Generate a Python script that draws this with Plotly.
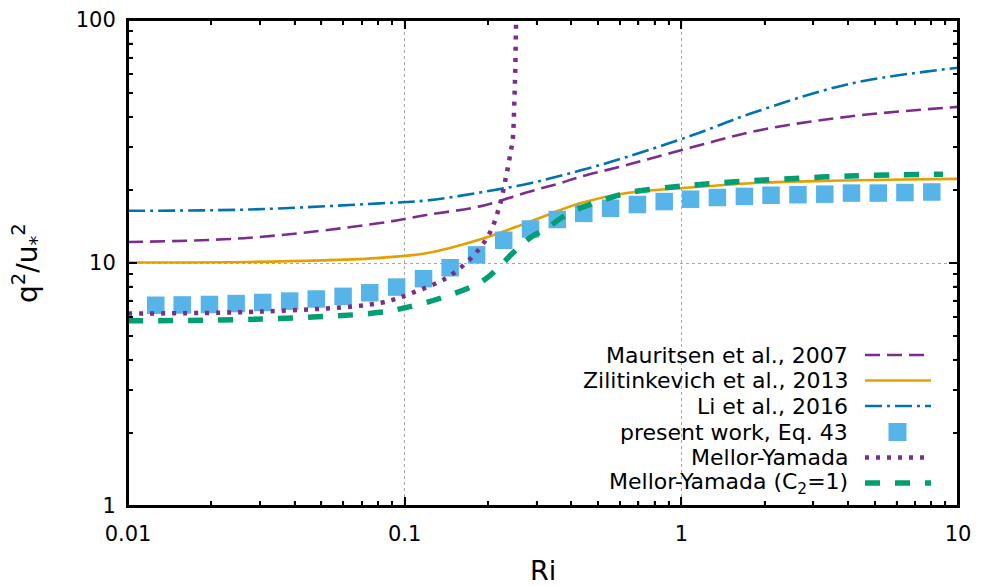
import math
import plotly.graph_objects as go

# ---------------- data ----------------
ri_mau = [0.01, 0.0275, 0.0815, 0.121, 0.187, 0.284, 0.364, 0.430, 0.634, 1.10, 1.92, 4.06, 10.0]
q_mau = [12.2, 12.7, 14.6, 15.8, 17.1, 19.7, 21.3, 22.6, 25.3, 30.0, 35.2, 40.1, 43.9]

ri_zil = [0.01, 0.0275, 0.05, 0.0815, 0.121, 0.187, 0.284, 0.430, 0.634, 1.10, 1.92, 3.5, 5.5, 10.0]
q_zil = [10.05, 10.1, 10.25, 10.5, 11.0, 12.5, 14.8, 17.6, 19.4, 20.5, 21.4, 21.8, 22.0, 22.2]

ri_li = [0.01, 0.0275, 0.0815, 0.121, 0.187, 0.284, 0.430, 0.634, 1.10, 1.77, 4.06, 10.0]
q_li = [16.4, 16.6, 17.6, 18.1, 19.5, 21.3, 24.0, 27.3, 33.6, 41.1, 54.6, 63.6]

ri_pw = [0.0126, 0.0157, 0.0197, 0.0246, 0.0307, 0.0384, 0.0479, 0.0599, 0.0748, 0.0935,
         0.117, 0.146, 0.182, 0.228, 0.285, 0.356, 0.444, 0.555, 0.694, 0.867,
         1.08, 1.35, 1.69, 2.11, 2.64, 3.30, 4.12, 5.15, 6.43, 8.04]
q_pw = [6.70, 6.72, 6.75, 6.81, 6.88, 6.97, 7.11, 7.29, 7.54, 7.96,
        8.62, 9.56, 10.8, 12.4, 13.8, 15.1, 16.0, 16.8, 17.4, 17.9,
        18.3, 18.6, 18.8, 19.0, 19.1, 19.2, 19.4, 19.4, 19.5, 19.6]

ri_my = [0.01, 0.03, 0.0815, 0.107, 0.142, 0.177, 0.203, 0.220, 0.2326, 0.2424, 0.2457, 0.2492, 0.2512, 0.2527, 0.2531]
q_my = [6.2, 6.31, 6.85, 7.55, 8.70, 10.7, 13.3, 17.1, 22.7, 29.2, 32.0, 46.6, 65.0, 96.0, 100.0]

ri_myc = [0.01, 0.0287, 0.080, 0.107, 0.142, 0.187, 0.215, 0.246, 0.284, 0.326, 0.374, 0.430, 0.481,
          0.634, 0.91, 1.20, 1.92, 4.06, 8.83]
q_myc = [5.78, 5.87, 6.25, 6.66, 7.31, 8.30, 9.40, 11.0, 12.7, 13.9, 15.5, 16.8, 17.6,
         19.4, 20.5, 21.1, 21.9, 22.8, 23.2]

x_tickvals = [0.01, 0.1, 1, 10]
x_ticktext = ["0.01", "0.1", "1", "10"]
y_tickvals = [1, 10, 100]
y_ticktext = ["1", "10", "100"]

names = ["Mauritsen et al., 2007", "Zilitinkevich et al., 2013", "Li et al., 2016",
         "present work, Eq. 43", "Mellor-Yamada", "Mellor-Yamada (C<sub>2</sub>=1)"]

PURPLE = "#7B2D8E"
ORANGE = "#E69F00"
BLUE = "#0072B2"
SKY = "#56B4E9"
GREEN = "#009E73"

styles = [
    dict(color=PURPLE, width=2.6, dash="15px,7px"),
    dict(color=ORANGE, width=2.6, dash="solid"),
    dict(color=BLUE, width=2.6, dash="17px,5px,3px,5px"),
    None,
    dict(color=PURPLE, width=4.5, dash="4px,7px"),
    dict(color=GREEN, width=5.5, dash="15px,15px"),
]

fig = go.Figure()
fig.add_trace(go.Scatter(x=ri_zil, y=q_zil, mode="lines", line=dict(**styles[1], shape="spline"), showlegend=False))
fig.add_trace(go.Scatter(x=ri_mau, y=q_mau, mode="lines", line=dict(**styles[0], shape="spline"), showlegend=False))
fig.add_trace(go.Scatter(x=ri_li, y=q_li, mode="lines", line=dict(**styles[2], shape="spline"), showlegend=False))
fig.add_trace(go.Scatter(x=ri_pw, y=q_pw, mode="markers",
                         marker=dict(symbol="square", size=17.5, color=SKY, line=dict(width=0)),
                         showlegend=False))
fig.add_trace(go.Scatter(x=ri_my, y=q_my, mode="lines", line=dict(**styles[4], shape="spline"), showlegend=False))
fig.add_trace(go.Scatter(x=ri_myc, y=q_myc, mode="lines", line=dict(**styles[5], shape="spline"), showlegend=False))
# empty trace carrying the overlay axes that draw the minor tick marks
fig.add_trace(go.Scatter(x=[], y=[], xaxis="x2", yaxis="y2", showlegend=False, hoverinfo="skip"))

FONT = "DejaVu Sans"
XR, YR = [-2, 1], [0, 2]
x_minor = [k * 10.0 ** e for e in range(XR[0], XR[1]) for k in range(2, 10)]
y_minor = [k * 10.0 ** e for e in range(YR[0], YR[1]) for k in range(2, 10)]

fig.update_layout(
    xaxis=dict(type="log", range=XR, tickmode="array", tickvals=x_tickvals, ticktext=x_ticktext,
               showline=True, linecolor="black", linewidth=2, mirror="ticks",
               ticks="inside", ticklen=9, tickwidth=1.5, tickcolor="black",
               showgrid=True, gridcolor="#a8a8a8", griddash="dot", gridwidth=1, zeroline=False,
               ticklabelstandoff=8, tickfont=dict(family=FONT, size=21, color="black")),
    yaxis=dict(type="log", range=YR, tickmode="array", tickvals=y_tickvals, ticktext=y_ticktext,
               showline=True, linecolor="black", linewidth=2, mirror="ticks",
               ticks="inside", ticklen=9, tickwidth=1.5, tickcolor="black",
               showgrid=True, gridcolor="#a8a8a8", griddash="dot", gridwidth=1, zeroline=False,
               ticklabelstandoff=6, tickfont=dict(family=FONT, size=21, color="black")),
    xaxis2=dict(type="log", range=XR, overlaying="x", anchor="y", side="bottom",
                tickmode="array", tickvals=x_minor, showticklabels=False,
                ticks="inside", ticklen=5, tickwidth=1.5, tickcolor="black", mirror="ticks",
                showline=False, showgrid=False, zeroline=False),
    yaxis2=dict(type="log", range=YR, overlaying="y", anchor="x", side="left",
                tickmode="array", tickvals=y_minor, showticklabels=False,
                ticks="inside", ticklen=5, tickwidth=1.5, tickcolor="black", mirror="ticks",
                showline=False, showgrid=False, zeroline=False),
)

PL, PR, PT, PB = 128, 958, 20, 506      # plot-area box in page pixels
W, H = 987, 586
L, T, R, B = PL, PT, W - PR, H - PB
pw, ph = W - L - R, H - T - B

def px(xpage):
    return (xpage - PL) / pw

def py(ypage):
    return (PB - ypage) / ph

annotations = [
    dict(text="Ri", x=0.5, y=0, xref="paper", yref="paper", xanchor="center", yanchor="middle",
         yshift=-(570 - PB), showarrow=False, font=dict(family=FONT, size=27, color="black")),
    dict(text="q<sup>2</sup>/u<sub>*</sub><sup>2</sup>", x=0, y=0.5, xref="paper", yref="paper",
         xanchor="center", yanchor="middle", xshift=-(PL - 27), textangle=-90, showarrow=False,
         font=dict(family=FONT, size=28, color="black")),
]

shapes = []
# frame edges (drawn again as shapes, coincident with the axis lines)
for x0, x1, y0, y1 in ((0, 1, 0, 0), (0, 1, 1, 1), (0, 0, 0, 1), (1, 1, 0, 1)):
    shapes.append(dict(type="line", xref="paper", yref="paper", x0=x0, x1=x1, y0=y0, y1=y1,
                       line=dict(color="black", width=2)))

# tick marks as shapes too (inside, all four sides), on the axes' log scale
def xfrac(v):
    return (math.log10(v) - XR[0]) / (XR[1] - XR[0])

def yfrac(v):
    return (math.log10(v) - YR[0]) / (YR[1] - YR[0])

tick_line = dict(color="black", width=1.5)
for vals, ln in ((x_tickvals, 9), (x_minor, 5)):
    for v in vals:
        f = xfrac(v)
        shapes.append(dict(type="line", xref="paper", yref="paper",
                           x0=f, x1=f, y0=0, y1=ln / ph, line=tick_line))
        shapes.append(dict(type="line", xref="paper", yref="paper",
                           x0=f, x1=f, y0=1, y1=1 - ln / ph, line=tick_line))
for vals, ln in ((y_tickvals, 9), (y_minor, 5)):
    for v in vals:
        f = yfrac(v)
        shapes.append(dict(type="line", xref="paper", yref="paper",
                           y0=f, y1=f, x0=0, x1=ln / pw, line=tick_line))
        shapes.append(dict(type="line", xref="paper", yref="paper",
                           y0=f, y1=f, x0=1, x1=1 - ln / pw, line=tick_line))

rows = [355, 380.5, 406, 432, 457.5, 483]
for i, (nm, yy) in enumerate(zip(names, rows)):
    annotations.append(dict(text=nm, x=px(850), y=py(yy), xref="paper", yref="paper",
                            xanchor="right", yanchor="middle", showarrow=False,
                            font=dict(family=FONT, size=22, color="black")))
    if styles[i] is None:
        shapes.append(dict(type="rect", xref="paper", yref="paper",
                           x0=px(888.5), x1=px(906.5), y0=py(yy + 9), y1=py(yy - 9),
                           fillcolor=SKY, line=dict(width=0)))
    else:
        st = styles[i]
        shapes.append(dict(type="line", xref="paper", yref="paper",
                           x0=px(865), x1=px(931), y0=py(yy), y1=py(yy),
                           line=dict(color=st["color"], width=st["width"], dash=st["dash"])))

fig.update_layout(
    width=W, height=H, margin=dict(l=L, r=R, t=T, b=B, autoexpand=False),
    paper_bgcolor="white", plot_bgcolor="white",
    annotations=annotations, shapes=shapes, showlegend=False,
    font=dict(family=FONT),
)

fig.write_html("out.html", config={"displayModeBar": False},
               post_script="document.body.style.margin='0px';document.body.style.overflow='hidden';")
